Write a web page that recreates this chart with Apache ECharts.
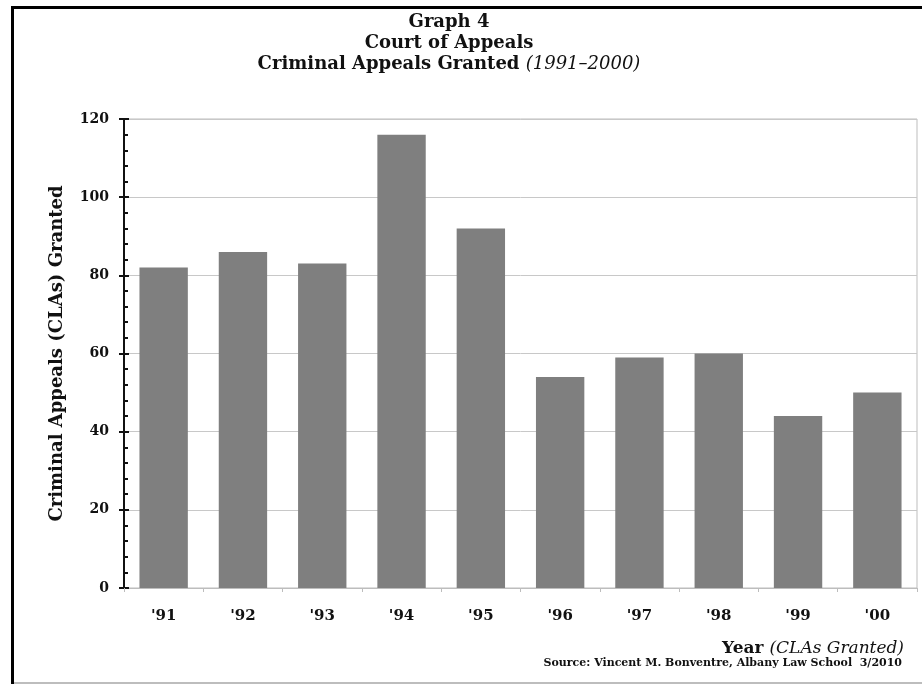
<!DOCTYPE html>
<html>
<head>
<meta charset="utf-8">
<script src="https://cdn.jsdelivr.net/npm/echarts@6/dist/echarts.min.js"></script>
<style>
    html, body { margin: 0; padding: 0; background: #fff; }
    #main { width: 922px; height: 685px; }
</style>
</head>
<body>
<div id="main"></div>
<script>
// data
var years = ["'91", "'92", "'93", "'94", "'95", "'96", "'97", "'98", "'99", "'00"];
var granted = [82, 86, 83, 116, 92, 54, 59, 60, 44, 50];

var serif = '"DejaVu Serif", "Liberation Serif", serif';

var chart = echarts.init(document.getElementById('main'));
var option = {
    backgroundColor: '#fff',
    animation: false,
    title: {
        left: 444,
        top: 7,
        textAlign: 'center',
        text: '{b|Graph 4}\n{b|Court of Appeals}\n{b|Criminal Appeals Granted }{i|(1991\u20132000)}',
        textStyle: {
            rich: {
                b: { fontFamily: serif, fontWeight: 'bold', fontSize: 18, color: '#111', lineHeight: 21 },
                i: { fontFamily: serif, fontStyle: 'italic', fontWeight: 'normal', fontSize: 18, color: '#111', lineHeight: 21 }
            }
        }
    },
    grid: {
        left: 124,
        right: 5,
        top: 119,
        bottom: 97,
        show: true,
        borderColor: '#bdbdbd',
        borderWidth: 1
    },
    xAxis: {
        type: 'category',
        data: years,
        axisLine: { lineStyle: { color: '#bdbdbd', width: 1 } },
        axisTick: { show: true, length: 4, lineStyle: { color: '#bdbdbd' } },
        axisLabel: {
            margin: 21,
            fontFamily: serif,
            fontWeight: 'bold',
            fontSize: 15,
            color: '#111'
        }
    },
    yAxis: [{
        type: 'value',
        min: 0,
        max: 120,
        interval: 20,
        name: 'Criminal Appeals (CLAs) Granted',
        nameLocation: 'middle',
        nameGap: 58,
        nameTextStyle: { fontFamily: serif, fontWeight: 'bold', fontSize: 18, color: '#111' },
        axisLine: { show: true, lineStyle: { color: '#111', width: 2 } },
        axisTick: { show: true, length: 5, lineStyle: { color: '#111', width: 2 } },
        axisLabel: { margin: 15, fontFamily: serif, fontWeight: 'bold', fontSize: 14, color: '#111' },
        splitLine: { show: true, lineStyle: { color: '#c8c8c8', width: 1 } }
    }, {
        // inner ticks + minor ticks
        type: 'value',
        position: 'left',
        min: 0,
        max: 120,
        interval: 20,
        axisLine: { show: false },
        axisTick: { show: true, inside: true, length: 5, lineStyle: { color: '#111', width: 2 } },
        minorTick: { show: true, splitNumber: 5, length: 4, lineStyle: { color: '#111', width: 2 } },
        axisLabel: { show: false },
        splitLine: { show: false }
    }],
    series: [{
        type: 'bar',
        data: granted,
        barWidth: '61%',
        itemStyle: { color: '#7f7f7f' }
    }],
    graphic: [
        // frame
        { type: 'rect', shape: { x: 11, y: 6, width: 3, height: 678 }, style: { fill: '#000' } },
        { type: 'rect', shape: { x: 11, y: 6, width: 911, height: 3 }, style: { fill: '#000' } },
        { type: 'rect', shape: { x: 14, y: 682, width: 908, height: 2 }, style: { fill: '#bdbdbd' } },
        {
            type: 'text',
            right: 18,
            top: 640,
            style: {
                text: '{b|Year }{i|(CLAs Granted)}',
                rich: {
                    b: { fontFamily: serif, fontWeight: 'bold', fontSize: 17, fill: '#111' },
                    i: { fontFamily: serif, fontStyle: 'italic', fontSize: 17, fill: '#111' }
                }
            }
        },
        {
            type: 'text',
            right: 20,
            top: 658,
            style: {
                text: 'Source: Vincent M. Bonventre, Albany Law School  3/2010',
                fontFamily: serif,
                fontWeight: 'bold',
                fontSize: 11,
                fill: '#111'
            }
        }
    ]
};
chart.setOption(option);
</script>
</body>
</html>
